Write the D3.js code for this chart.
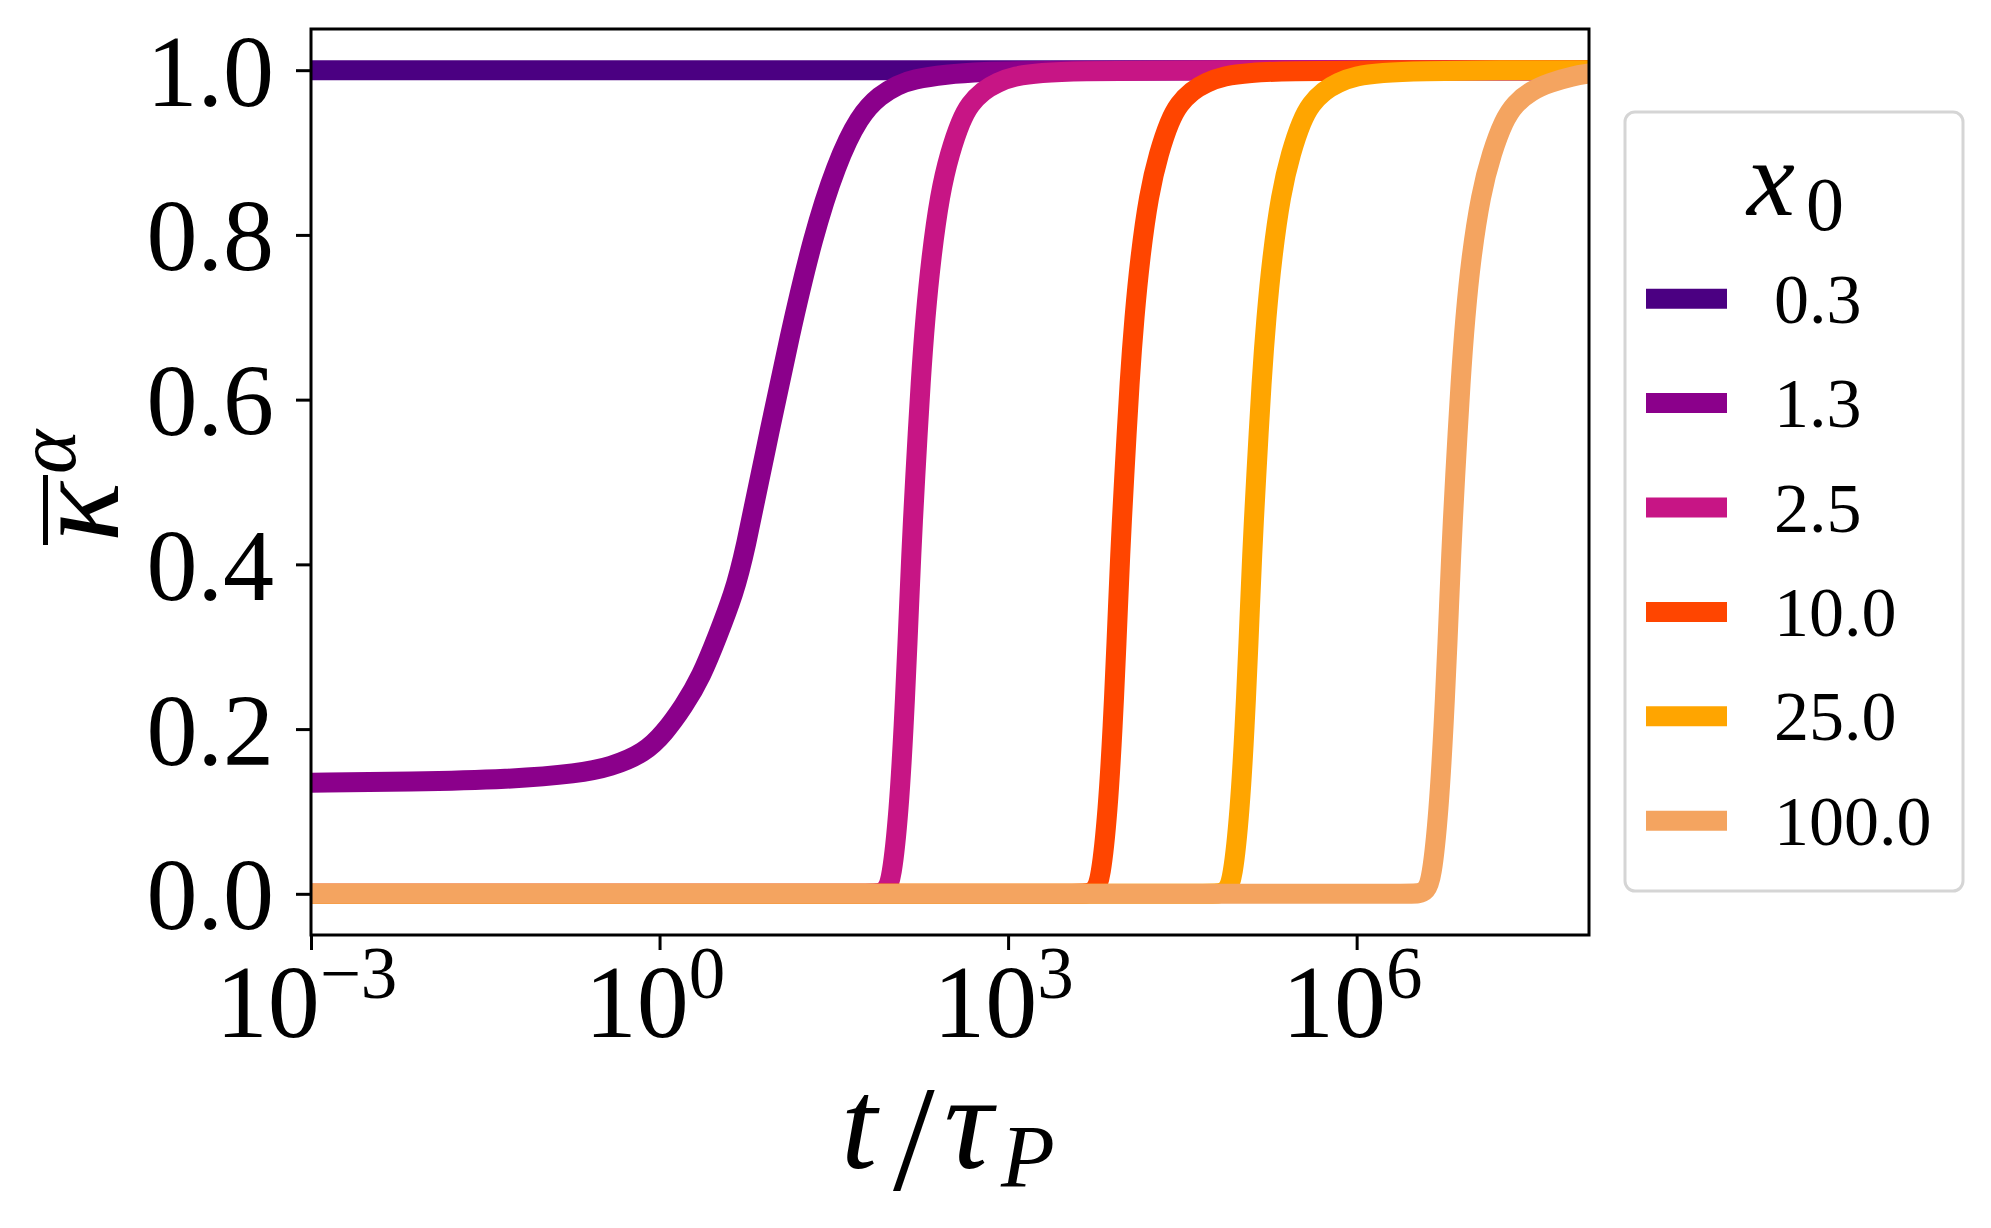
<!DOCTYPE html>
<html><head><meta charset="utf-8">
<script src="https://cdn.jsdelivr.net/npm/d3@7"></script>
<style>
body{margin:0;background:#fff;}
svg{display:block;}
text{font-family:"Liberation Serif","DejaVu Serif",serif;fill:#000;}
</style>
</head><body>
<script>
// ---------------- data ----------------
const seriesLabels = ["0.3", "1.3", "2.5", "10.0", "25.0", "100.0"];
const seriesColors = ["#4b0082", "#8b008b", "#c71585", "#ff4500", "#ffa500", "#f4a460"];

// log10(t/tau_P) and kappa values
const logT_0_3 = [-3, 8];
const kappa_0_3 = [1, 1];

const logT_1_3 = [-3, -2.14, -1.28, -0.70, -0.42, -0.13, 0.04, 0.21, 0.36, 0.50, 0.64, 0.73, 0.92, 1.12, 1.32, 1.52, 1.72, 1.90, 2.05, 2.18, 2.47, 2.75, 3.3, 8.0];
const kappa_1_3 = [0.135, 0.136, 0.139, 0.146, 0.154, 0.171, 0.195, 0.228, 0.264, 0.313, 0.365, 0.412, 0.544, 0.678, 0.798, 0.886, 0.945, 0.970, 0.982, 0.989, 0.995, 0.998, 1.0, 1.0];

const logT_2_5 = [-3, 1.0, 1.75, 1.897, 1.948, 1.997, 2.060, 2.103, 2.133, 2.168, 2.198, 2.250, 2.288, 2.336, 2.413, 2.499, 2.594, 2.671, 2.783, 2.904, 3.059, 3.274, 3.618, 4.3, 8.0];
const kappa_2_5 = [0, 0, 0, 0, 0.004, 0.016, 0.1, 0.206, 0.3, 0.418, 0.5, 0.629, 0.7, 0.77, 0.85, 0.9, 0.939, 0.959, 0.975, 0.985, 0.993, 0.997, 0.999, 1.0, 1.0];

const logT_10 = [-3, 2.5, 3.55, 3.695, 3.747, 3.796, 3.859, 3.902, 3.932, 3.966, 3.997, 4.048, 4.087, 4.134, 4.212, 4.298, 4.392, 4.470, 4.582, 4.702, 4.857, 5.072, 5.417, 6.1, 8.0];
const kappa_10 = [0, 0, 0, 0, 0.004, 0.016, 0.1, 0.206, 0.3, 0.418, 0.5, 0.629, 0.7, 0.77, 0.85, 0.9, 0.939, 0.959, 0.975, 0.985, 0.993, 0.997, 0.999, 1.0, 1.0];

const logT_25 = [-3, 3.5, 4.68, 4.831, 4.883, 4.932, 4.995, 5.038, 5.068, 5.102, 5.133, 5.184, 5.223, 5.270, 5.348, 5.434, 5.528, 5.606, 5.718, 5.838, 5.993, 6.208, 6.552, 7.2, 8.0];
const kappa_25 = [0, 0, 0, 0, 0.004, 0.016, 0.1, 0.206, 0.3, 0.418, 0.5, 0.629, 0.7, 0.77, 0.85, 0.9, 0.939, 0.959, 0.975, 0.985, 0.993, 0.997, 0.999, 1.0, 1.0];

const logT_100 = [-3, 5.0, 6.40, 6.544, 6.596, 6.645, 6.707, 6.750, 6.781, 6.815, 6.845, 6.897, 6.935, 6.983, 7.069, 7.164, 7.267, 7.361, 7.499, 7.663, 7.861, 8.0];
const kappa_100 = [0, 0, 0, 0, 0.004, 0.016, 0.1, 0.206, 0.3, 0.418, 0.5, 0.629, 0.7, 0.77, 0.85, 0.9, 0.939, 0.959, 0.975, 0.985, 0.993, 0.996];

const xTickExponents = ["-3", "0", "3", "6"];
const yTickLabels = ["0.0", "0.2", "0.4", "0.6", "0.8", "1.0"];

const seriesLogT = [logT_0_3, logT_1_3, logT_2_5, logT_10, logT_25, logT_100];
const seriesKappa = [kappa_0_3, kappa_1_3, kappa_2_5, kappa_10, kappa_25, kappa_100];

// ---------------- layout ----------------
const W = 1991, H = 1228;
const L = 311, R = 1589, T = 29, B = 935;

const svg = d3.select("body").append("svg").attr("width", W).attr("height", H);

const x = d3.scaleLog().domain([1e-3, 1e8]).range([L, R]);
const y = d3.scaleLinear().domain([-0.05, 1.05]).range([B, T]);

svg.append("defs").append("clipPath").attr("id", "plotclip")
  .append("rect").attr("x", L).attr("y", T).attr("width", R - L).attr("height", B - T);

// lines
const line = d3.line()
  .x(d => x(Math.pow(10, d[0])))
  .y(d => y(d[1]))
  .curve(d3.curveBasis);

const gLines = svg.append("g").attr("clip-path", "url(#plotclip)");
seriesLabels.forEach((lab, i) => {
  const pts = seriesLogT[i].map((t, j) => [t, seriesKappa[i][j]]);
  gLines.append("path")
    .attr("d", line(pts))
    .attr("fill", "none")
    .attr("stroke", seriesColors[i])
    .attr("stroke-width", 20)
    .attr("stroke-linejoin", "round")
    .attr("stroke-linecap", "square");
});

// y axis
const yTickVals = yTickLabels.map(Number);
const yAxis = d3.axisLeft(y).tickValues(yTickVals).tickSize(15).tickSizeOuter(0).tickPadding(22)
  .tickFormat((d, i) => yTickLabels[i]);
const gy = svg.append("g").attr("transform", `translate(${L},0)`).call(yAxis);
gy.select(".domain").remove();
gy.selectAll(".tick line").attr("stroke", "#000").attr("stroke-width", 3);
gy.selectAll(".tick text")
  .attr("dy", null).attr("y", 35)
  .style("font-size", "102px")
  .attr("text-anchor", "end");

// x axis
const xTickVals = xTickExponents.map(e => Math.pow(10, +e));
const xAxis = d3.axisBottom(x).tickValues(xTickVals).tickSize(15).tickSizeOuter(0).tickFormat(() => "");
const gx = svg.append("g").attr("transform", `translate(0,${B})`).call(xAxis);
gx.select(".domain").remove();
gx.selectAll(".tick line").attr("stroke", "#000").attr("stroke-width", 3);
gx.selectAll(".tick text").each(function(d, i) {
  const t = d3.select(this);
  t.text(null).attr("dy", null).attr("y", 102).attr("x", -5)
    .attr("text-anchor", "middle").style("font-size", "104px");
  t.append("tspan").text("10");
  t.append("tspan").attr("dy", -39).style("font-size", "73px")
    .text(xTickExponents[i].replace("-", "\u2212"));
});

// frame (spines)
svg.append("rect").attr("x", L).attr("y", T).attr("width", R - L).attr("height", B - T)
  .attr("fill", "none").attr("stroke", "#000").attr("stroke-width", 3);

// x label  t/τ_P
const xl = svg.append("text").attr("y", 1168).style("font-size", "130px");
xl.append("tspan").attr("x", 841).style("font-style", "italic").text("t");
xl.append("tspan").attr("x", 893).attr("y", 1190).style("font-size", "150px").text("/");
xl.append("tspan").attr("x", 944).attr("y", 1168).style("font-style", "italic").style("font-size", "136px").text("\u03C4");
xl.append("tspan").attr("x", 1001).attr("y", 1186).style("font-style", "italic").style("font-size", "88px").text("P");

// y label  κ̄^α (rotated)
const yl = svg.append("g").attr("transform", "translate(118,484) rotate(-90)");
yl.append("rect").attr("x", -61).attr("y", -75).attr("width", 70).attr("height", 5).attr("fill", "#000");
const ylt = yl.append("text").attr("y", 0).style("font-size", "125px");
ylt.append("tspan").attr("x", -58).style("font-style", "italic").text("\u03BA");
ylt.append("tspan").attr("x", 10).attr("y", -43).style("font-style", "italic").style("font-size", "84px").text("\u03B1");

// legend
const lg = svg.append("g");
lg.append("rect").attr("x", 1625).attr("y", 112).attr("width", 338).attr("height", 779)
  .attr("rx", 10).attr("ry", 10)
  .attr("fill", "#fff").attr("stroke", "#d5d5d5").attr("stroke-width", 3);
const lt = lg.append("text").attr("y", 215).style("font-size", "108px");
lt.append("tspan").attr("x", 1747).style("font-style", "italic").text("x");
lt.append("tspan").attr("x", 1806).attr("dy", 15).style("font-size", "76px").text("0");

seriesLabels.forEach((lab, i) => {
  const cy = 298.7 + i * 104.4;
  lg.append("line").attr("x1", 1646).attr("x2", 1727).attr("y1", cy).attr("y2", cy)
    .attr("stroke", seriesColors[i]).attr("stroke-width", 20);
  lg.append("text").attr("x", 1774).attr("y", cy + 24).style("font-size", "70px").text(lab);
});
</script>
</body></html>
